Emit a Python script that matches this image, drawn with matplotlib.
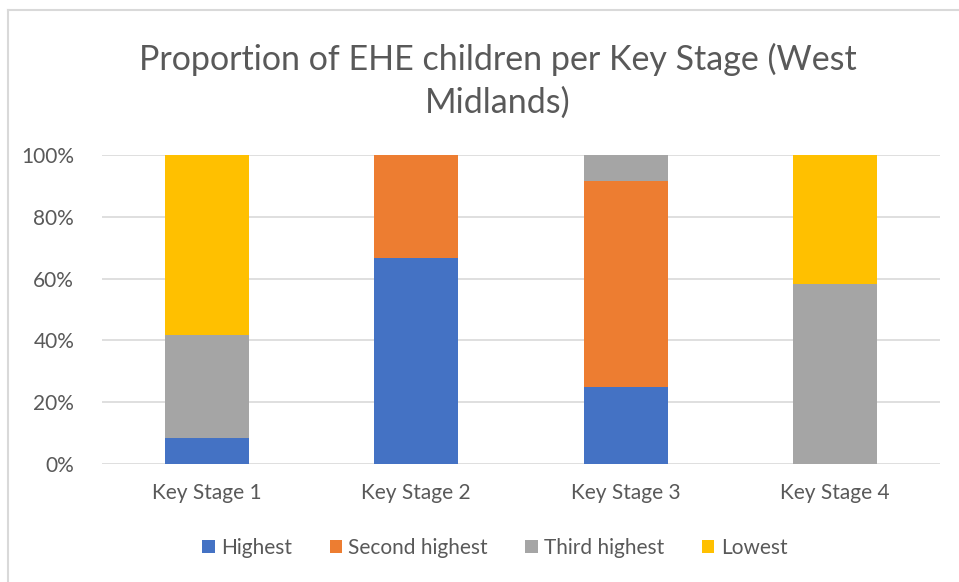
import matplotlib.pyplot as plt
from matplotlib.lines import Line2D
from matplotlib.ticker import PercentFormatter

# data (shares per key stage)
stages = ["Key Stage 1", "Key Stage 2", "Key Stage 3", "Key Stage 4"]
highest = [8.33, 66.67, 25.0, 0.0]
second_highest = [0.0, 33.33, 66.67, 0.0]
third_highest = [33.33, 0.0, 8.33, 58.33]
lowest = [58.34, 0.0, 0.0, 41.67]

series = ["Highest", "Second highest", "Third highest", "Lowest"]
colors = ["#4472C4", "#ED7D31", "#A5A5A5", "#FFC000"]
text_col = "#595959"

plt.rcParams["font.family"] = ["Lato", "DejaVu Sans"]

fig = plt.figure(figsize=(9.59, 5.82), dpi=100)
ax = fig.add_axes([102 / 959, 1 - 464 / 582, 838 / 959, 309 / 582])

x = range(len(stages))
bottom = [0.0] * len(stages)
for name, vals, c in zip(series, [highest, second_highest, third_highest, lowest], colors):
    ax.bar(x, vals, width=0.4, bottom=bottom, color=c, label=name, zorder=3)
    bottom = [b + v for b, v in zip(bottom, vals)]

ax.set_xlim(-0.5, 3.5)
ax.set_ylim(0, 100)
ax.set_yticks(range(0, 101, 20))
ax.yaxis.set_major_formatter(PercentFormatter(decimals=0))
ax.set_xticks(list(x))
ax.set_xticklabels(stages)
ax.tick_params(length=0, labelsize=15, colors=text_col)
ax.tick_params(axis="x", pad=14)
ax.tick_params(axis="y", pad=20)
ax.grid(axis="y", color="#D9D9D9", linewidth=1.2, zorder=0)
for s in ax.spines.values():
    s.set_visible(False)

fig.text(0.519, 1 - 43 / 582, "Proportion of EHE children per Key Stage (West\nMidlands)",
         ha="center", va="top", fontsize=24.5, color=text_col, linespacing=1.4)

leg = fig.legend(loc="center", bbox_to_anchor=(0.516, 1 - 548 / 582), ncol=4, frameon=False,
                 fontsize=15, handlelength=0.6, handleheight=0.6, handletextpad=0.3,
                 columnspacing=1.8)
for t in leg.get_texts():
    t.set_color(text_col)

# chart border (partially cropped in the reference)
fig.add_artist(Line2D([8 / 959, 8 / 959], [0, 1 - 10 / 582], color="#D9D9D9", lw=1.5))
fig.add_artist(Line2D([8 / 959, 1], [1 - 10 / 582, 1 - 10 / 582], color="#D9D9D9", lw=1.5))

fig.savefig("out.png", dpi=100)
